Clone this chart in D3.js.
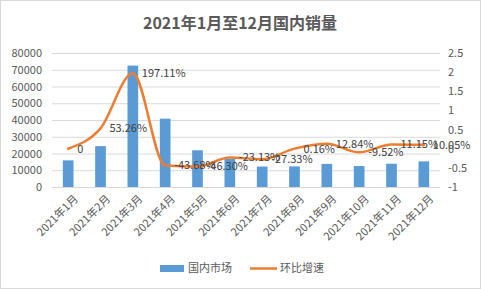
<!DOCTYPE html>
<html>
<head>
<meta charset="utf-8">
<script src="https://cdn.jsdelivr.net/npm/d3@7"></script>
<style>
  body { margin: 0; background: #fff; }
  text { font-family: "Microsoft YaHei", "Noto Sans CJK SC", sans-serif; }
</style>
</head>
<body>
<div id="chart-area"></div>
<script>
let width = 481,
    height = 289;

const margin = ({top: 53, right: 41, bottom: 102, left: 52});

// data
const months = ["2021年1月", "2021年2月", "2021年3月", "2021年4月", "2021年5月", "2021年6月",
                "2021年7月", "2021年8月", "2021年9月", "2021年10月", "2021年11月", "2021年12月"];
const domestic = [15900, 24400, 72500, 40800, 21900, 16800, 12200, 12300, 13800, 12500, 13900, 15300];
const growth = [0, 0.5326, 1.9711, -0.4368, -0.4630, -0.2313, -0.2733, 0.0016, 0.1284, -0.0952, 0.1115, 0.1005];
const growthLabels = ["0", "53.26%", "197.11%", "-43.68%", "-46.30%", "-23.13%", "-27.33%",
                      "0.16%", "12.84%", "-9.52%", "11.15%", "10.05%"];
const leftTicks = [0, 10000, 20000, 30000, 40000, 50000, 60000, 70000, 80000];
const rightTicks = [-1, -0.5, 0, 0.5, 1, 1.5, 2, 2.5];

const svg = d3.select("#chart-area")
  .append("svg")
  .attr("width", width)
  .attr("height", height);

svg.append("rect")
  .attr("x", 0.5).attr("y", 0.5)
  .attr("width", width - 1).attr("height", height - 1)
  .attr("fill", "#fff")
  .attr("stroke", "#d9d9d9");

// title
svg.append("text")
  .attr("x", 240)
  .attr("y", 29)
  .attr("text-anchor", "middle")
  .attr("font-size", 16)
  .attr("font-weight", "bold")
  .attr("fill", "#595959")
  .text("2021年1月至12月国内销量");

let x = d3.scaleBand()
  .domain(months)
  .range([margin.left, width - margin.right])
  .paddingInner(0.67)
  .paddingOuter(0.335);

let y = d3.scaleLinear()
  .domain([0, 80000])
  .range([height - margin.bottom, margin.top]);

let y2 = d3.scaleLinear()
  .domain([-1, 2.5])
  .range([height - margin.bottom, margin.top]);

const fontFam = "\"Microsoft YaHei\", \"Noto Sans CJK SC\", sans-serif";

// gridlines + left axis
const yAxis = g => g
  .attr("transform", `translate(${margin.left},0)`)
  .call(d3.axisLeft(y).tickValues(leftTicks).tickFormat(d3.format("d")).tickSize(0).tickPadding(10))
  .call(g => g.select(".domain").remove())
  .call(g => g.selectAll(".tick line").clone()
      .attr("x2", width - margin.left - margin.right)
      .attr("stroke", "#d9d9d9"))
  .call(g => g.selectAll("text")
      .attr("fill", "#595959")
      .attr("font-size", 11)
      .attr("font-family", fontFam));

const y2Axis = g => g
  .attr("transform", `translate(${width - margin.right},0)`)
  .call(d3.axisRight(y2).tickValues(rightTicks).tickFormat(d => String(d)).tickSize(0).tickPadding(8))
  .call(g => g.select(".domain").remove())
  .call(g => g.selectAll("text")
      .attr("fill", "#595959")
      .attr("font-size", 11)
      .attr("font-family", fontFam));

const xAxis = g => g
  .attr("transform", `translate(0,${height - margin.bottom})`)
  .call(d3.axisBottom(x).tickSize(0).tickPadding(4))
  .call(g => g.select(".domain").remove())
  .call(g => g.selectAll("text")
      .attr("fill", "#595959")
      .attr("font-size", 11)
      .attr("font-family", fontFam)
      .attr("text-anchor", "end")
      .attr("dy", "0.35em")
      .attr("transform", "translate(5,7) rotate(-45)"));

svg.append("g").call(yAxis);
svg.append("g").call(y2Axis);
svg.append("g").call(xAxis);

// bars
svg.append("g")
  .selectAll("rect")
  .data(domestic)
  .join("rect")
  .attr("x", (d, i) => x(months[i]))
  .attr("y", d => y(d))
  .attr("width", x.bandwidth())
  .attr("height", d => y(0) - y(d))
  .attr("fill", "#5b9bd5");

// growth line
const cx = i => x(months[i]) + x.bandwidth() / 2;
const line = d3.line()
  .curve(d3.curveMonotoneX)
  .x((d, i) => cx(i))
  .y(d => y2(d));

svg.append("path")
  .datum(growth)
  .attr("fill", "none")
  .attr("stroke", "#ed7d31")
  .attr("stroke-width", 2.5)
  .attr("stroke-linejoin", "round")
  .attr("stroke-linecap", "round")
  .attr("d", line);

// data labels
svg.append("g")
  .selectAll("text")
  .data(growth)
  .join("text")
  .attr("x", (d, i) => cx(i) + 9)
  .attr("y", d => y2(d))
  .attr("dy", "0.35em")
  .attr("font-size", 11)
  .attr("fill", "#404040")
  .text((d, i) => growthLabels[i]);

// legend
const legend = svg.append("g");
legend.append("rect")
  .attr("x", 160).attr("y", 265)
  .attr("width", 24).attr("height", 7)
  .attr("fill", "#5b9bd5");
legend.append("text")
  .attr("x", 188).attr("y", 268.5)
  .attr("dy", "0.35em")
  .attr("font-size", 11)
  .attr("fill", "#595959")
  .text("国内市场");
legend.append("line")
  .attr("x1", 250).attr("x2", 277)
  .attr("y1", 268.5).attr("y2", 268.5)
  .attr("stroke", "#ed7d31")
  .attr("stroke-width", 2.5);
legend.append("text")
  .attr("x", 280).attr("y", 268.5)
  .attr("dy", "0.35em")
  .attr("font-size", 11)
  .attr("fill", "#595959")
  .text("环比增速");
</script>
</body>
</html>
